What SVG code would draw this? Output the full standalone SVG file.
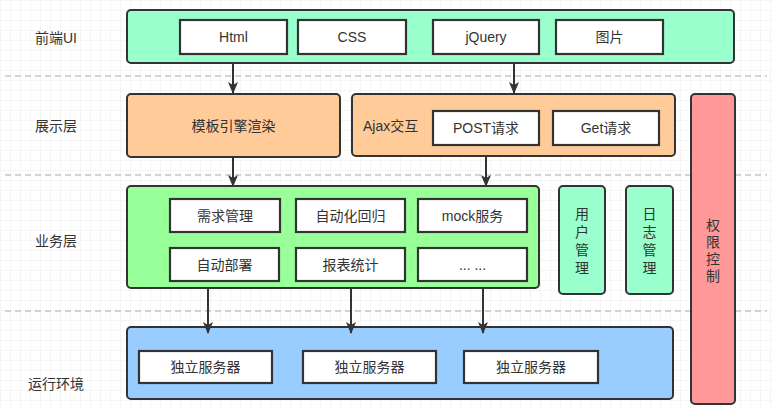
<svg xmlns="http://www.w3.org/2000/svg" width="772" height="408" viewBox="0 0 772 408">
<defs>
<pattern id="grid" width="10" height="10" patternUnits="userSpaceOnUse">
<path d="M10 0H0V10" fill="none" stroke="#ececec" stroke-width="1"/>
</pattern>
<marker id="arr" viewBox="0 0 12 10" refX="11" refY="5" markerWidth="12" markerHeight="10" markerUnits="userSpaceOnUse" orient="auto">
<path d="M0 0L12 5L0 10L3 5Z" fill="#333"/>
</marker>
</defs>
<style>
text{font-family:"Liberation Sans","Noto Sans CJK SC",sans-serif;font-size:14px;fill:#333;}
.c{text-anchor:middle;dominant-baseline:central;}
.box{stroke:#333;stroke-width:2;}
.w{fill:#fff;stroke:#333;stroke-width:2.2;}
.dash{stroke:#aaa;stroke-width:1.2;stroke-dasharray:6 4;fill:none;}
.con{stroke:#333;stroke-width:2;fill:none;marker-end:url(#arr);}
</style>
<rect width="772" height="408" fill="#fff"/>
<rect width="772" height="408" fill="url(#grid)"/>
<g id="separators">
<line class="dash" x1="5" y1="76" x2="767" y2="76"/>
<line class="dash" x1="5" y1="175" x2="767" y2="175"/>
<line class="dash" x1="5" y1="311" x2="767" y2="311"/>
</g>
<g id="labels">
<text class="c" x="56" y="38">前端UI</text>
<text class="c" x="56" y="126">展示层</text>
<text class="c" x="56" y="241">业务层</text>
<text class="c" x="56" y="384">运行环境</text>
</g>
<g id="frontend">
<rect class="box" x="127" y="10" width="607" height="53" rx="4" fill="#99ffcc"/>
<g id="html"><rect class="w" x="180" y="20" width="107" height="34"/><text class="c" x="233.5" y="37">Html</text></g>
<g id="css"><rect class="w" x="298" y="20" width="108" height="34"/><text class="c" x="352" y="37">CSS</text></g>
<g id="jquery"><rect class="w" x="433" y="20" width="106" height="34"/><text class="c" x="486" y="37">jQuery</text></g>
<g id="img"><rect class="w" x="556" y="20" width="107" height="34"/><text class="c" x="609.5" y="37">图片</text></g>
</g>
<g id="template">
<rect class="box" x="127" y="94" width="213" height="63" rx="4" fill="#ffcc99"/>
<text class="c" x="233.5" y="126">模板引擎渲染</text>
</g>
<g id="ajax">
<rect class="box" x="352" y="94" width="323" height="62" rx="4" fill="#ffcc99"/>
<text x="363" y="126" dominant-baseline="central">Ajax交互</text>
<g id="post"><rect class="w" x="433" y="111" width="106" height="34"/><text class="c" x="486" y="128">POST请求</text></g>
<g id="get"><rect class="w" x="553" y="111" width="106" height="34"/><text class="c" x="606" y="128">Get请求</text></g>
</g>
<g id="auth">
<rect class="box" x="691" y="94" width="44" height="310" rx="4" fill="#ff9999"/>
<text class="c" x="713" y="225">权</text>
<text class="c" x="713" y="242">限</text>
<text class="c" x="713" y="259">控</text>
<text class="c" x="713" y="276">制</text>
</g>
<g id="business">
<rect class="box" x="127" y="186" width="412" height="102" rx="4" fill="#99ff99"/>
<g id="b1"><rect class="w" x="170" y="199" width="110" height="33"/><text class="c" x="225" y="215.5">需求管理</text></g>
<g id="b2"><rect class="w" x="296" y="199" width="109" height="33"/><text class="c" x="350.5" y="215.5">自动化回归</text></g>
<g id="b3"><rect class="w" x="418" y="199" width="109" height="33"/><text class="c" x="472.5" y="215.5">mock服务</text></g>
<g id="b4"><rect class="w" x="170" y="248" width="109" height="33"/><text class="c" x="224.5" y="264.5">自动部署</text></g>
<g id="b5"><rect class="w" x="296" y="248" width="109" height="33"/><text class="c" x="350.5" y="264.5">报表统计</text></g>
<g id="b6"><rect class="w" x="418" y="248" width="109" height="33"/><text class="c" x="472.5" y="264.5">... ...</text></g>
</g>
<g id="user">
<rect class="box" x="559" y="186" width="46" height="108" rx="4" fill="#99ffcc"/>
<text class="c" x="582" y="214">用</text>
<text class="c" x="582" y="232">户</text>
<text class="c" x="582" y="250">管</text>
<text class="c" x="582" y="268">理</text>
</g>
<g id="log">
<rect class="box" x="626" y="186" width="47" height="108" rx="4" fill="#99ffcc"/>
<text class="c" x="649.5" y="214">日</text>
<text class="c" x="649.5" y="232">志</text>
<text class="c" x="649.5" y="250">管</text>
<text class="c" x="649.5" y="268">理</text>
</g>
<g id="runtime">
<rect class="box" x="127" y="327" width="546" height="72" rx="4" fill="#99ccff"/>
<g id="s1"><rect class="w" x="139" y="351" width="133" height="32"/><text class="c" x="205.5" y="367">独立服务器</text></g>
<g id="s2"><rect class="w" x="303" y="351" width="133" height="32"/><text class="c" x="369.5" y="367">独立服务器</text></g>
<g id="s3"><rect class="w" x="464" y="351" width="134" height="32"/><text class="c" x="531" y="367">独立服务器</text></g>
</g>
<g id="connectors">
<line class="con" x1="233" y1="64" x2="233" y2="93"/>
<line class="con" x1="514" y1="64" x2="514" y2="93"/>
<line class="con" x1="233" y1="158" x2="233" y2="186"/>
<line class="con" x1="486" y1="157" x2="486" y2="186"/>
<line class="con" x1="208" y1="289" x2="208" y2="333"/>
<line class="con" x1="351" y1="289" x2="351" y2="333"/>
<line class="con" x1="483" y1="289" x2="483" y2="333"/>
</g>
</svg>
